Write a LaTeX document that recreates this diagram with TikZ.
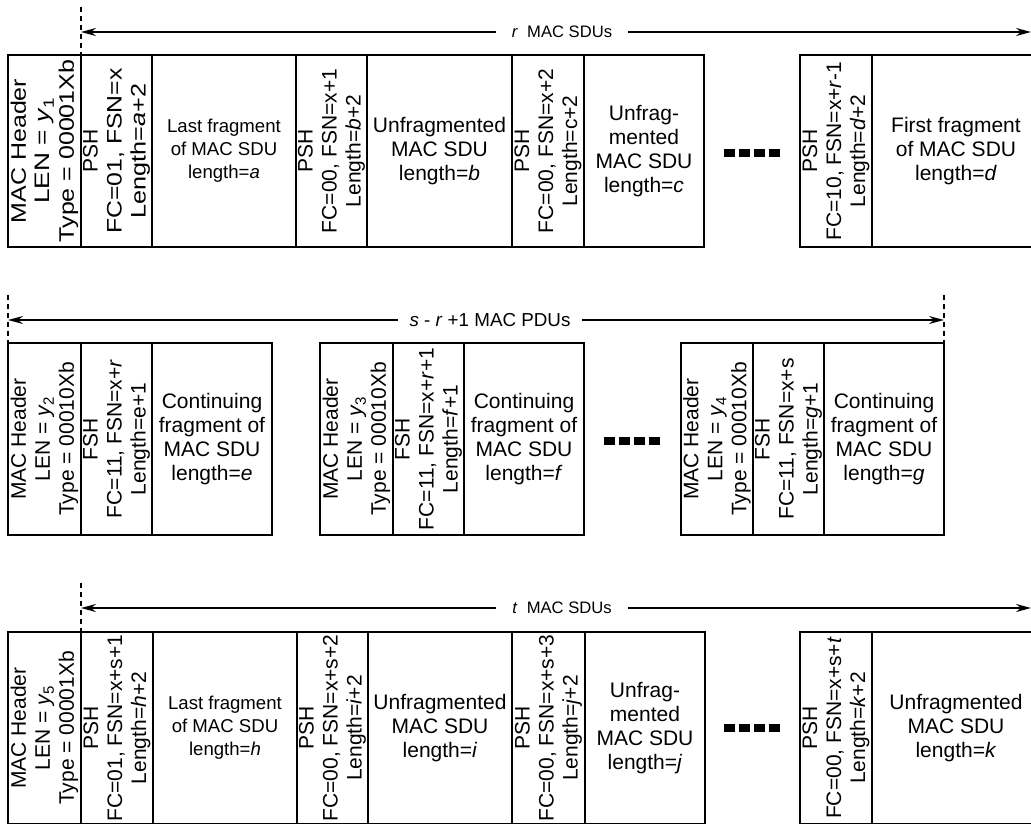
\documentclass[tikz,border=0pt]{standalone}
\usepackage{fontspec}
\setmainfont{Liberation Sans}
\usetikzlibrary{arrows.meta}
\newcommand\lsub[1]{\raisebox{-4pt}{\fontsize{15}{15}\selectfont #1}}
\newcommand\iv[1]{\textit{#1}}
\newcommand\sx[2]{\scalebox{#1}[1]{#2}}
\newcommand\hc[6][]{\node[cell,minimum width={#4-#3},#1] (#2) at ({(#3+#4)/2},#5) {#6};}
\newcommand\vc[6][]{\node[cell,rotate=90,minimum width=192,minimum height={#4-#3},#1] (#2) at ({(#3+#4)/2},#5) {#6};}
\begin{document}
\begin{tikzpicture}[x=1pt,y=-1pt,
 cell/.style={draw, line width=2pt, inner sep=0pt, outer sep=0pt, minimum height=192, align=center, font=\fontsize{21}{24}\selectfont},
 small/.style={font=\fontsize{18.6}{23}\selectfont},
 lbl/.style={fill=white, inner xsep=16pt, inner ysep=2pt, font=\fontsize{16.6}{20}\selectfont},
 span/.style={line width=1.6pt, {Stealth[length=15pt,width=8pt]}-{Stealth[length=15pt,width=8pt]}},
 guide/.style={line width=1.6pt, dash pattern=on 5pt off 4pt},
 dots/.style={line width=8pt, dash pattern=on 10.5pt off 4.5pt}]
\useasboundingbox (0,0) rectangle (1031,823);
\clip (0,0) rectangle (1031,823);
% ---------- row 1 ----------
\vc{a1}{8}{81}{151}{\sx{1.19}{MAC Header}\\\sx{1.25}{LEN = \iv{y}\lsub{1}}\\\sx{1.19}{Type = 00001Xb}}
\vc{a2}{81}{152}{151}{PSH\\\sx{1.18}{FC=01, FSN=x}\\\sx{1.2}{Length=\iv{a}+2}}
\hc[small]{a3}{152}{296}{151}{Last fragment\\of MAC SDU\\length=\iv{a}}
\vc{a4}{296}{367}{151}{PSH\\FC=00, FSN=x+1\\Length=\iv{b}+2}
\hc{a5}{367}{512}{151}{Unfragmented\\MAC SDU\\length=\iv{b}}
\vc{a6}{512}{584}{151}{PSH\\FC=00, FSN=x+2\\Length=c+2}
\hc{a7}{584}{704}{151}{Unfrag-\\mented\\MAC SDU\\length=\iv{c}}
\vc{a8}{800}{872}{151}{PSH\\FC=10, FSN=x+\iv{r}-1\\Length=\iv{d}+2}
\hc{a9}{872}{1040}{151}{First fragment\\of MAC SDU\\length=\iv{d}}
\coordinate (g1t) at (81,7);
\coordinate (g1b) at (81,55);
\draw[guide] (g1t) -- (g1b);
\coordinate (s1L) at (81,32);
\coordinate (s1R) at (1031,32);
\draw[span] (s1L) -- (s1R);
\node[lbl] (l1) at (562,32) {\iv{r}\ \ MAC SDUs};
\coordinate (d1a) at (724,153);
\coordinate (d1b) at (780,153);
\draw[dots] (d1a) -- (d1b);
% ---------- row 2 ----------
\vc{b1}{8}{81}{439}{MAC Header\\LEN = \iv{y}\lsub{2}\\Type = 00010Xb}
\vc{b2}{81}{152}{439}{FSH\\FC=11, FSN=x+\iv{r}\\Length=e+1}
\hc{b3}{152}{272}{439}{Continuing\\fragment of\\MAC SDU\\length=\iv{e}}
\vc{b4}{320}{393}{439}{MAC Header\\LEN = \iv{y}\lsub{3}\\Type = 00010Xb}
\vc{b5}{393}{464}{439}{FSH\\FC=11, FSN=x+\iv{r}+1\\Length=\iv{f}+1}
\hc{b6}{464}{584}{439}{Continuing\\fragment of\\MAC SDU\\length=\iv{f}}
\vc{b7}{681}{753}{439}{MAC Header\\LEN = \iv{y}\lsub{4}\\Type = 00010Xb}
\vc{b8}{753}{824}{439}{FSH\\FC=11, FSN=x+s\\Length=\iv{g}+1}
\hc{b9}{824}{944}{439}{Continuing\\fragment of\\MAC SDU\\length=\iv{g}}
\coordinate (g2lt) at (8,295);
\coordinate (g2lb) at (8,343);
\coordinate (g2rt) at (944,295);
\coordinate (g2rb) at (944,343);
\draw[guide] (g2lt) -- (g2lb);
\draw[guide] (g2rt) -- (g2rb);
\coordinate (s2L) at (8,320);
\coordinate (s2R) at (944,320);
\draw[span] (s2L) -- (s2R);
\node[lbl, font=\fontsize{18.8}{22}\selectfont, inner xsep=12pt] (l2) at (490,320) {\iv{s} - \iv{r} +1 MAC PDUs};
\coordinate (d2a) at (604,441);
\coordinate (d2b) at (660,441);
\draw[dots] (d2a) -- (d2b);
% ---------- row 3 ----------
\vc{c1}{8}{81}{728}{MAC Header\\LEN = \iv{y}\lsub{5}\\Type = 00001Xb}
\vc{c2}{81}{153}{728}{PSH\\FC=01, FSN=x+s+1\\Length=\iv{h}+2}
\hc[small]{c3}{153}{297}{728}{Last fragment\\of MAC SDU\\length=\iv{h}}
\vc{c4}{297}{368}{728}{PSH\\FC=00, FSN=x+s+2\\Length=\iv{i}+2}
\hc{c5}{368}{512}{728}{Unfragmented\\MAC SDU\\length=\iv{i}}
\vc{c6}{512}{585}{728}{PSH\\FC=00, FSN=x+s+3\\Length=\iv{j}+2}
\hc{c7}{585}{705}{728}{Unfrag-\\mented\\MAC SDU\\length=\iv{j}}
\vc{c8}{800}{872}{728}{PSH\\FC=00, FSN=x+s+\iv{t}\\Length=\iv{k}+2}
\hc{c9}{872}{1040}{728}{Unfragmented\\MAC SDU\\length=\iv{k}}
\coordinate (g3t) at (81,583);
\coordinate (g3b) at (81,632);
\draw[guide] (g3t) -- (g3b);
\coordinate (s3L) at (81,608);
\coordinate (s3R) at (1031,608);
\draw[span] (s3L) -- (s3R);
\node[lbl] (l3) at (562,608) {\iv{t}\ \ MAC SDUs};
\coordinate (d3a) at (724,728);
\coordinate (d3b) at (780,728);
\draw[dots] (d3a) -- (d3b);
\end{tikzpicture}
\end{document}
